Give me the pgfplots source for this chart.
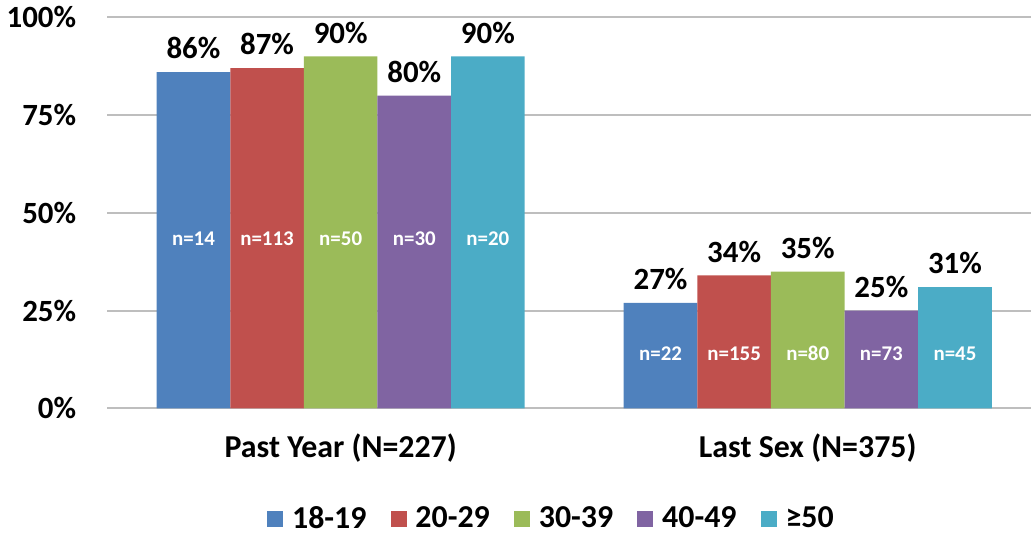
\documentclass[border=0pt]{standalone}
\usepackage{fontspec}
\setmainfont{Carlito}
\usepackage{pgfplots}
\pgfplotsset{compat=1.18}

\definecolor{c1}{HTML}{4F81BD}
\definecolor{c2}{HTML}{C0504D}
\definecolor{c3}{HTML}{9BBB59}
\definecolor{c4}{HTML}{8064A2}
\definecolor{c5}{HTML}{4BACC6}
\definecolor{gridgray}{HTML}{BEBEBE}

\pgfplotsset{
  pct bar/.style={fill=#1, draw=none,
    nodes near coords={\pgfmathprintnumber[assume math mode=true]{\pgfplotspointmeta}\%},
    every node near coord/.append style={font=\fontsize{15.5}{18}\selectfont\bfseries, text=black, yshift=3bp}},
  n label/.style={draw=none, fill=none, forget plot, bar shift=#1,
    point meta=explicit symbolic, nodes near coords,
    every node near coord/.append style={anchor=center, text=white, font=\fontsize{10.5}{12}\selectfont\bfseries}},
}

\begin{document}
\begin{tikzpicture}
\begin{axis}[
  scale only axis,
  width=462bp, height=195.5bp,
  ybar=0pt, bar width=0.1576,
  xmin=-0.5, xmax=1.478,
  ymin=0, ymax=100,
  xtick={0,1}, xticklabels={Past Year (N=227), Last Sex (N=375)},
  ytick={0,25,50,75,100},
  yticklabel={\pgfmathprintnumber[assume math mode=true]{\tick}\%},
  ymajorgrids, grid style={gridgray, line width=1bp},
  axis line style={draw=none},
  major tick length=0pt,
  tick label style={font=\fontsize{15.5}{18}\selectfont\bfseries},
  yticklabel style={xshift=-12bp},
  xticklabel style={yshift=-9bp, font=\fontsize{16}{18}\selectfont\bfseries},
  clip=false,
  legend columns=5,
  legend style={at={(0.482,-0.282)}, anchor=center, draw=none,
    font=\fontsize{16}{18}\selectfont\bfseries,
    /tikz/every odd column/.append style={column sep=2.5bp},
    /tikz/every even column/.append style={column sep=10bp}},
  legend image code/.code={\fill[#1] (0bp,-4bp) rectangle (8bp,4bp);},
]
\addplot[pct bar=c1, bar shift=-0.3152] coordinates {(0,86) (1,27)};
\addplot[pct bar=c2, bar shift=-0.1576] coordinates {(0,87) (1,34)};
\addplot[pct bar=c3, bar shift=0] coordinates {(0,90) (1,35)};
\addplot[pct bar=c4, bar shift=0.1576] coordinates {(0,80) (1,25)};
\addplot[pct bar=c5, bar shift=0.3152] coordinates {(0,90) (1,31)};
\legend{18-19, 20-29, 30-39, 40-49, ≥50}

\addplot[n label=-0.3152] coordinates {(0,43.5)[n=14] (1,14)[n=22]};
\addplot[n label=-0.1576] coordinates {(0,43.5)[n=113] (1,14)[n=155]};
\addplot[n label=0] coordinates {(0,43.5)[n=50] (1,14)[n=80]};
\addplot[n label=0.1576] coordinates {(0,43.5)[n=30] (1,14)[n=73]};
\addplot[n label=0.3152] coordinates {(0,43.5)[n=20] (1,14)[n=45]};
\end{axis}
\end{tikzpicture}
\end{document}
